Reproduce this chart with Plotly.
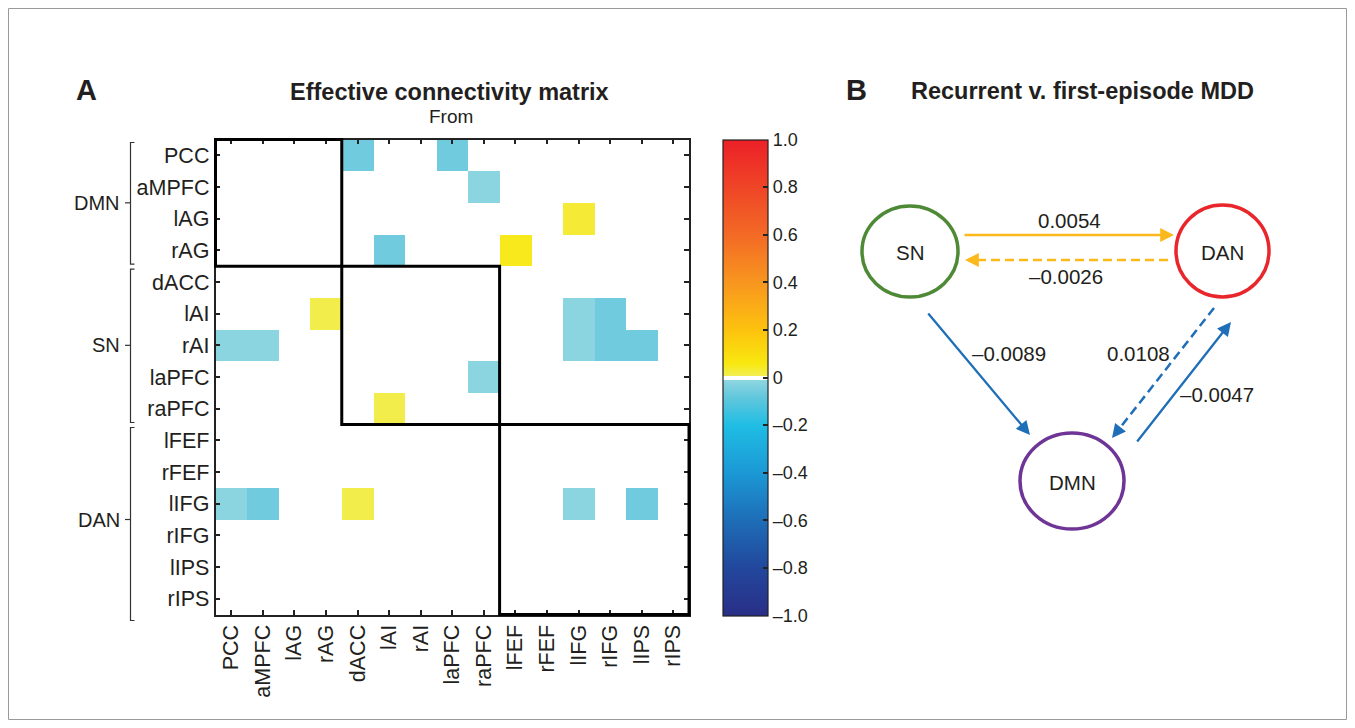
import plotly.graph_objects as go

# ---------------- data ----------------
regions = ["PCC", "aMPFC", "lAG", "rAG", "dACC", "lAI", "rAI", "laPFC", "raPFC",
           "lFEF", "rFEF", "lIFG", "rIFG", "lIPS", "rIPS"]
groups = ["DMN", "SN", "DAN"]
group_sizes = [4, 5, 6]

# significant connections: (to-region row, from-region column, value)
conn_to = ["PCC", "PCC", "aMPFC", "lAG", "rAG", "rAG",
           "lAI", "lAI", "lAI",
           "rAI", "rAI", "rAI", "rAI", "rAI",
           "laPFC", "raPFC",
           "lIFG", "lIFG", "lIFG", "lIFG", "lIFG"]
conn_from = ["dACC", "laPFC", "raPFC", "lIFG", "lAI", "lFEF",
             "rAG", "lIFG", "rIFG",
             "PCC", "aMPFC", "lIFG", "rIFG", "lIPS",
             "raPFC", "lAI",
             "PCC", "aMPFC", "dACC", "lIFG", "lIPS"]
conn_val = [-0.06, -0.06, -0.015, 0.03, -0.06, 0.05,
            0.015, -0.015, -0.06,
            -0.015, -0.015, -0.015, -0.06, -0.06,
            -0.015, 0.015,
            -0.015, -0.06, 0.015, -0.015, -0.06]

cbar_vals = [1.0, 0.8, 0.6, 0.4, 0.2, 0.0, -0.2, -0.4, -0.6, -0.8, -1.0]
cbar_text = ["1.0", "0.8", "0.6", "0.4", "0.2", "0", "\u20130.2", "\u20130.4",
             "\u20130.6", "\u20130.8", "\u20131.0"]

# Panel B: network-level effective connectivity
nodes = ["SN", "DAN", "DMN"]
node_colors = ["#4e8a36", "#e8262b", "#6e3596"]
edge_from = ["SN", "DAN", "SN", "DAN", "DMN"]
edge_to = ["DAN", "SN", "DMN", "DMN", "DAN"]
edge_val = [0.0054, -0.0026, -0.0089, 0.0108, -0.0047]
edge_dashed = [False, True, False, True, False]

# ---------------- layout helpers ----------------
W, H = 1355, 728
FONT = "Liberation Sans, Arial, Helvetica, sans-serif"
TXT = "#231f20"


def px(x):
    return x / W


def py(y):
    return 1 - y / H


def fmt(v):
    s = f"{abs(v):.4f}"
    return ("\u2013" + s) if v < 0 else s


n = len(regions)
idx = {r: i for i, r in enumerate(regions)}
z = [[None] * n for _ in range(n)]
for t, f, v in zip(conn_to, conn_from, conn_val):
    z[idx[t]][idx[f]] = v

colorscale = [
    [0.0, "#2a2f87"], [0.1, "#22479c"], [0.2, "#1e6db7"], [0.3, "#1b98d5"],
    [0.4, "#1fbde4"], [0.46, "#62c7dc"], [0.496, "#8fd6e1"],
    [0.496, "#ffffff"], [0.504, "#ffffff"],
    [0.504, "#f2ee55"], [0.53, "#f8e80f"], [0.6, "#fdc30e"], [0.7, "#f8961f"],
    [0.8, "#f36a25"], [0.9, "#ef4527"], [1.0, "#ec2027"],
]

# geometry (pixels)
PL, PR, PT, PB = 215.5, 689.0, 139.5, 614.5
CB_L, CB_R, CB_T, CB_B = 723.0, 768.0, 139.5, 615.5
cw = (PR - PL) / len(regions)
rh = (PB - PT) / len(regions)


def cx(i):  # cell-edge index -> pixel x
    return PL + i * cw


def cy(i):  # cell-edge index -> pixel y
    return PT + i * rh


fig = go.Figure()
fig.add_trace(go.Heatmap(
    z=z, x=list(range(n)), y=list(range(n)),
    zmin=-1, zmax=1, colorscale=colorscale, hoverongaps=False,
    colorbar=dict(
        x=px(CB_L), xanchor="left", xpad=0, ypad=0,
        y=py((CB_T + CB_B) / 2), yanchor="middle",
        len=(CB_B - CB_T) / H, lenmode="fraction",
        thickness=CB_R - CB_L, thicknessmode="pixels",
        outlinewidth=1.2, outlinecolor="#222",
        tickvals=cbar_vals, ticktext=cbar_text,
        ticks="inside", ticklen=5, tickwidth=1.5, tickcolor="#222",
        tickfont=dict(family=FONT, size=18, color=TXT),
    ),
))

shapes = []
annotations = []

# block boxes around within-network sub-matrices + group brackets
start = 0
for g, s in zip(groups, group_sizes):
    shapes.append(dict(type="rect", xref="paper", yref="paper",
                       x0=px(cx(start)), x1=px(cx(start + s)),
                       y0=py(cy(start)), y1=py(cy(start + s)),
                       line=dict(color="black", width=3)))
    top, bot = cy(start) + 3, cy(start + s) - 2
    if start + s == n:
        bot = cy(start + s) + 6
    xb = 130.5
    path = (f"M {px(xb + 4)},{py(top)} L {px(xb)},{py(top)} L {px(xb)},{py(bot)} "
            f"L {px(xb + 4)},{py(bot)}")
    shapes.append(dict(type="path", xref="paper", yref="paper", path=path,
                       line=dict(color="#333", width=1.2)))
    mid = (cy(start) + cy(start + s)) / 2
    shapes.append(dict(type="line", xref="paper", yref="paper", x0=px(125), x1=px(xb),
                       y0=py(mid), y1=py(mid), line=dict(color="#333", width=1.2)))
    annotations.append(dict(text=g, x=px(122), y=py(mid),
                            xanchor="right", yanchor="middle",
                            font=dict(size=20)))
    start += s

# colorbar ticks on the left edge too
for v in cbar_vals[1:-1]:
    yy = CB_B - (v + 1) / 2 * (CB_B - CB_T)
    shapes.append(dict(type="line", xref="paper", yref="paper",
                       x0=px(CB_L), x1=px(CB_L + 5), y0=py(yy), y1=py(yy),
                       line=dict(color="#222", width=1.5)))

# outer frame
shapes.append(dict(type="rect", xref="paper", yref="paper",
                   x0=px(8.5), x1=px(1346.5), y0=py(8.5), y1=py(719.5),
                   line=dict(color="#9a9a9a", width=1)))

# titles
annotations += [
    dict(text="<b>A</b>", x=px(86), y=py(90), font=dict(size=29)),
    dict(text="<b>Effective connectivity matrix</b>", x=px(449), y=py(92), font=dict(size=23.5)),
    dict(text="From", x=px(451), y=py(117), font=dict(size=19)),
    dict(text="<b>B</b>", x=px(856), y=py(90), font=dict(size=29)),
    dict(text="<b>Recurrent v. first-episode MDD</b>", x=px(1082), y=py(91), font=dict(size=23.5)),
]

# ---------------- panel B ----------------
node_box = {"SN": (862, 958, 206, 297), "DAN": (1176, 1269, 205, 297),
            "DMN": (1020, 1124, 433, 529)}
for name, col in zip(nodes, node_colors):
    x0, x1, y0, y1 = node_box[name]
    shapes.append(dict(type="circle", xref="paper", yref="paper",
                       x0=px(x0), x1=px(x1), y0=py(y0), y1=py(y1),
                       line=dict(color=col, width=3.5)))
    annotations.append(dict(text=name, x=px((x0 + x1) / 2), y=py((y0 + y1) / 2 + 1),
                            font=dict(size=20.5)))

ORANGE, BLUE = "#fbb91b", "#1f6fb8"
edge_geom = {  # (tail x, tail y, tip x, tip y, label x, label y)
    ("SN", "DAN"): (963, 235, 1174, 235, 1069, 220),
    ("DAN", "SN"): (1168, 260, 965, 260, 1066, 276),
    ("SN", "DMN"): (927, 312, 1030, 435, 1009, 353),
    ("DAN", "DMN"): (1214, 308, 1112, 438, 1138, 353),
    ("DMN", "DAN"): (1136, 443, 1231, 322, 1217, 394),
}
for f, t, v, d in zip(edge_from, edge_to, edge_val, edge_dashed):
    tx, ty, hx, hy, lx, ly = edge_geom[(f, t)]
    col = ORANGE if {f, t} == {"SN", "DAN"} else BLUE
    if d:
        L = ((hx - tx) ** 2 + (hy - ty) ** 2) ** 0.5
        ux, uy = (hx - tx) / L, (hy - ty) / L
        shapes.append(dict(type="line", xref="paper", yref="paper",
                           x0=px(tx), y0=py(ty), x1=px(hx - ux * 8), y1=py(hy - uy * 8),
                           line=dict(color=col, width=2.5, dash="9px,5px")))
        ax, ay = -ux * 12, -uy * 12
    else:
        ax, ay = tx - hx, ty - hy
    annotations.append(dict(text="", x=px(hx), y=py(hy), ax=ax, ay=ay,
                            axref="pixel", ayref="pixel", showarrow=True,
                            arrowhead=2, arrowsize=1.2, arrowwidth=2.3,
                            arrowcolor=col, standoff=0, startstandoff=0))
    annotations.append(dict(text=fmt(v), x=px(lx), y=py(ly), font=dict(size=20.5)))

for a in annotations:
    a.setdefault("xref", "paper")
    a.setdefault("yref", "paper")
    a.setdefault("showarrow", False)
    if a["text"]:
        a.setdefault("xanchor", "center")
        a.setdefault("yanchor", "middle")
    f = a.setdefault("font", {})
    f.setdefault("family", FONT)
    f.setdefault("color", TXT)

axis_common = dict(showline=True, linecolor="#222", linewidth=1.5, mirror="allticks",
                   ticks="inside", ticklen=5, tickwidth=1.5, tickcolor="#222",
                   showgrid=False, zeroline=False, automargin=False,
                   tickfont=dict(family=FONT, size=21.5, color=TXT),
                   tickmode="array", tickvals=list(range(n)), ticktext=regions,
                   fixedrange=True)

fig.update_layout(
    width=W, height=H, margin=dict(l=0, r=0, t=0, b=0),
    paper_bgcolor="white", plot_bgcolor="white",
    xaxis=dict(domain=[px(PL), px(PR)], range=[-0.5, n - 0.5], tickangle=-90,
               **axis_common),
    yaxis=dict(domain=[py(PB), py(PT)], range=[n - 0.5, -0.5], **axis_common),
    shapes=shapes, annotations=annotations, showlegend=False,
)

fig.write_html("out.html", config={"displayModeBar": False},
               post_script="document.body.style.margin='0';")
